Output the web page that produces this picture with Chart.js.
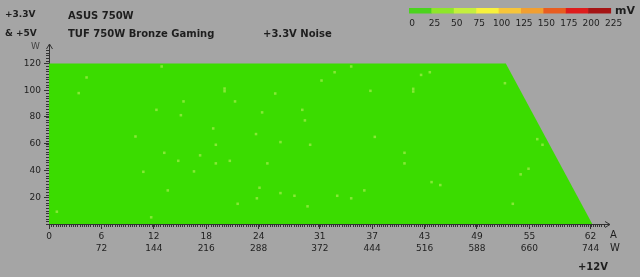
<!DOCTYPE html>
<html>
<head>
<meta charset="utf-8">
<script src="https://cdn.jsdelivr.net/npm/chart.js@4.4.1/dist/chart.umd.min.js"></script>
<style>
html, body { margin: 0; padding: 0; background: #a5a5a5; }
#wrap { position: relative; width: 640px; height: 277px; }
</style>
</head>
<body>
<div id="wrap"><canvas id="graficoRuido"></canvas></div>
<script>
// limite de carga (12V em A, 3.3V+5V em W)
var limiteAmps = [0, 52.3, 62.2];
var limiteWatts = [120, 120, 0];

// pontos medidos com ruido um pouco maior
var pontosAmps = [12.9, 4.3, 3.4, 15.4, 12.3, 15.1, 9.9, 13.2, 14.8, 10.8, 13.6, 0.9, 11.7,
	20.1, 20.1, 25.9, 21.3, 24.4, 29.0, 29.3, 18.8, 23.7, 26.5, 19.1, 29.9, 17.3, 20.7, 19.1, 25.0,
	16.6, 24.1, 26.5, 28.1, 23.8, 21.6, 29.6, 34.6, 32.7, 43.6, 42.6, 31.2, 36.8, 41.7, 41.7,
	37.3, 40.7, 40.7, 43.8, 44.8, 36.1, 33.0, 34.6, 52.2, 55.9, 56.5, 54.9, 54.0, 53.1];
var pontosWatts = [117.7, 109.5, 97.8, 91.6, 85.3, 81.3, 65.4, 53.2, 47.2, 39.0, 25.1, 9.2, 5.0,
	99.2, 101.2, 97.5, 91.6, 83.4, 85.3, 77.4, 71.4, 67.2, 61.2, 59.2, 59.2, 51.3, 47.2, 45.3, 45.3,
	39.3, 27.1, 23.1, 21.1, 19.2, 15.1, 13.2, 117.7, 113.4, 113.4, 111.4, 107.2, 99.5, 99.0, 101.0,
	65.1, 53.2, 45.3, 31.3, 29.1, 25.1, 21.1, 19.2, 105.2, 63.4, 59.2, 41.3, 37.1, 15.1];

var ticksAmps = [0, 6, 12, 18, 24, 31, 37, 43, 49, 55, 62];
var ticksWatts12v = [0, 72, 144, 216, 288, 372, 444, 516, 588, 660, 744];
var ticksWatts = [20, 40, 60, 80, 100, 120];

var escalaMv = [0, 25, 50, 75, 100, 125, 150, 175, 200, 225];
var coresEscala = ['#4cd31e', '#8ee62b', '#c4ef3e', '#f8f23c', '#f7c53a', '#f19f30', '#e85d20', '#de1c1c', '#a51414'];

var corFundo = '#a5a5a5';
var corTexto = '#1e1e1e';

var pontosLimite = [];
for (i = 0; i < limiteAmps.length; i++) {
	pontosLimite.push({ x: limiteAmps[i], y: limiteWatts[i] });
}
var pontosRuido = [];
for (i = 0; i < pontosAmps.length; i++) {
	pontosRuido.push({ x: pontosAmps[i], y: pontosWatts[i] });
}

var desenhoExtra = {
	id: 'desenhoExtra',
	afterDraw: function (chart) {
		var ctx = chart.ctx;
		var area = chart.chartArea;
		var sx = chart.scales.x;
		var sy = chart.scales.y;
		ctx.save();
		ctx.strokeStyle = '#333';
		ctx.lineWidth = 1;

		// minor ticks
		ctx.beginPath();
		for (var a = 0; a <= 63.5; a += 0.25) {
			var px = Math.round(sx.getPixelForValue(a)) + 0.5;
			ctx.moveTo(px, area.bottom);
			ctx.lineTo(px, area.bottom + 3);
		}
		for (var w = 0; w <= 130; w += 2) {
			var py = Math.round(sy.getPixelForValue(w)) + 0.5;
			ctx.moveTo(area.left, py);
			ctx.lineTo(area.left - 3, py);
		}
		ctx.stroke();

		// setas dos eixos
		ctx.beginPath();
		ctx.moveTo(area.left + 0.5, area.top);
		ctx.lineTo(area.left + 0.5, area.top - 2);
		ctx.moveTo(area.left - 2.5, area.top + 3);
		ctx.lineTo(area.left + 0.5, area.top - 2);
		ctx.lineTo(area.left + 3.5, area.top + 3);
		ctx.moveTo(area.right, area.bottom + 0.5);
		ctx.lineTo(area.right + 2, area.bottom + 0.5);
		ctx.moveTo(area.right - 3, area.bottom - 2.5);
		ctx.lineTo(area.right + 2, area.bottom + 0.5);
		ctx.lineTo(area.right - 3, area.bottom + 3.5);
		ctx.stroke();

		// textos
		ctx.fillStyle = corTexto;
		ctx.textBaseline = 'middle';
		ctx.textAlign = 'left';
		ctx.font = 'bold 9px "DejaVu Sans"';
		ctx.fillText('+3.3V', 5, 15);
		ctx.fillText('& +5V', 5, 34);
		ctx.font = 'bold 10px "DejaVu Sans"';
		ctx.fillText('ASUS 750W', 68, 16);
		ctx.fillText('TUF 750W Bronze Gaming', 68, 34);
		ctx.fillText('+3.3V Noise', 263, 34);
		ctx.font = '9px "DejaVu Sans"';
		ctx.fillStyle = '#444';
		ctx.fillText('W', 31, 47);
		ctx.fillStyle = corTexto;
		ctx.font = '10px "DejaVu Sans"';
		ctx.fillText('A', 610, 235);
		ctx.fillText('W', 610, 248);
		ctx.font = 'bold 10px "DejaVu Sans"';
		ctx.textAlign = 'center';
		ctx.fillText('+12V', 593, 267);

		// escala de cores mV
		var x0 = 409, larg = 22.4;
		for (i = 0; i < coresEscala.length; i++) {
			ctx.fillStyle = coresEscala[i];
			ctx.fillRect(x0 + i * larg, 8, larg + 0.5, 5.5);
		}
		ctx.fillStyle = corTexto;
		ctx.font = '9px "DejaVu Sans"';
		for (i = 0; i < escalaMv.length; i++) {
			ctx.fillText(String(escalaMv[i]), x0 + 3 + i * larg, 24);
		}
		ctx.textAlign = 'left';
		ctx.font = 'bold 11px "DejaVu Sans"';
		ctx.fillText('mV', 615, 11);
		ctx.restore();
	}
};

var grafico = new Chart(document.getElementById('graficoRuido'), {
	type: 'scatter',
	data: {
		datasets: [{
			label: 'Ruido alto',
			data: pontosRuido,
			order: 1,
			pointStyle: 'rect',
			pointRadius: 1.8,
			pointBorderWidth: 0,
			pointBackgroundColor: '#86e836',
			showLine: false
		}, {
			label: 'Limite',
			data: pontosLimite,
			order: 2,
			showLine: true,
			fill: 'origin',
			backgroundColor: '#3bdc00',
			borderWidth: 0,
			borderColor: 'rgba(0,0,0,0)',
			pointRadius: 0,
			tension: 0
		}]
	},
	options: {
		responsive: true,
		maintainAspectRatio: false,
		animation: false,
		layout: { padding: { left: 0, right: 32, top: 46, bottom: 0 } },
		plugins: { legend: { display: false }, tooltip: { enabled: false } },
		scales: {
			x: {
				type: 'linear',
				min: 0,
				max: 64,
				afterBuildTicks: function (scale) {
					scale.ticks = ticksAmps.map(function (v) { return { value: v }; });
				},
				afterFit: function (scale) { scale.height = 53; },
				border: { display: true, color: '#333', width: 1 },
				grid: { drawOnChartArea: false, tickLength: 5, tickColor: '#333' },
				ticks: {
					autoSkip: false,
					maxRotation: 0,
					padding: 1,
					color: corTexto,
					font: { family: 'DejaVu Sans', size: 9, lineHeight: 1.4 },
					callback: function (value, index) {
						if (ticksAmps[index] === 0) return '0';
						return [String(ticksAmps[index]), String(ticksWatts12v[index])];
					}
				}
			},
			y: {
				type: 'linear',
				min: 0,
				max: 133,
				afterBuildTicks: function (scale) {
					scale.ticks = ticksWatts.map(function (v) { return { value: v }; });
				},
				afterFit: function (scale) { scale.width = 49; },
				border: { display: true, color: '#333', width: 1 },
				grid: { drawOnChartArea: false, tickLength: 5, tickColor: '#333' },
				ticks: {
					padding: 3,
					color: corTexto,
					font: { family: 'DejaVu Sans', size: 9 }
				}
			}
		}
	},
	plugins: [desenhoExtra]
});
</script>
</body>
</html>
